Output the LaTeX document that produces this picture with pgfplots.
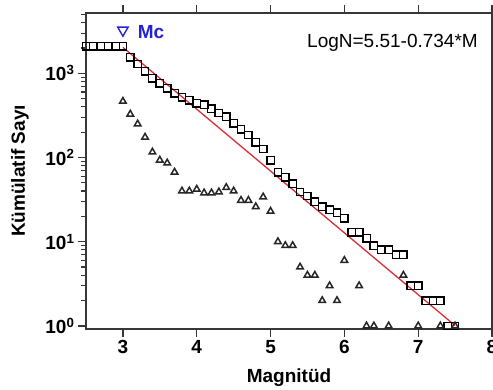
\documentclass[border=0pt]{standalone}
\usepackage{pgfplots}
\pgfplotsset{compat=1.18}
\usepackage{fontspec}
\setmainfont{Liberation Sans}
\definecolor{axgray}{RGB}{55,55,55}
\definecolor{fitred}{RGB}{220,45,55}
\definecolor{mcblue}{RGB}{35,35,210}
\begin{document}
\begin{tikzpicture}
\begin{axis}[
  scale only axis, width=406pt, height=316pt,
  xmin=2.5, xmax=8, ymode=log, ymin=0.92, ymax=5200,
  clip=false,
  axis line style={axgray, line width=1.5pt},
  every tick/.style={axgray, line width=1.2pt},
  tick align=outside,
  major tick length=8pt, minor tick length=5pt,
  xtick={3,4,5,6,7,8}, xticklabels={3,4,5,6,7,8},
  xtick pos=both, xticklabel pos=lower,
  ytick={1,10,100,1000},
  yticklabels={10\textsuperscript{0},10\textsuperscript{1},10\textsuperscript{2},10\textsuperscript{3}},
  minor ytick={2,3,4,5,6,7,8,9,20,30,40,50,60,70,80,90,200,300,400,500,600,700,800,900,2000,3000,4000,5000},
  ytick pos=left,
  tick label style={font=\bfseries\fontsize{19}{20}\selectfont},
  xlabel={Magnitüd}, ylabel={Kümülatif Sayı},
  label style={font=\bfseries\fontsize{19}{22}\selectfont},
  xlabel style={at={(axis description cs:0.5,-0.155)}, anchor=center},
  ylabel style={at={(axis description cs:-0.1626,0.5)}, anchor=center},
]
\addplot[only marks, mark=square, mark size=3.7pt, mark options={black, line width=1.4pt, fill=white}] table {
x y
2.5 2100
2.6 2100
2.7 2100
2.8 2100
2.9 2100
3.0 2100
3.1 1550
3.2 1290
3.3 1060
3.4 875
3.5 760
3.6 665
3.7 580
3.8 520
3.9 480
4.0 440
4.1 425
4.2 380
4.3 337
4.4 305
4.5 256
4.6 217
4.7 185
4.8 152
4.9 126
5.0 93
5.1 67
5.2 58
5.3 49
5.4 39
5.5 35
5.6 30
5.7 26
5.8 24
5.9 22
6.0 19
6.1 13
6.2 13
6.3 11
6.4 9
6.5 8
6.6 8
6.7 7
6.8 7
6.9 3
7.0 3
7.1 2
7.2 2
7.3 2
7.4 1
7.5 1
};
\addplot[only marks, mark=triangle, mark size=3.8pt, mark options={black!85, line width=1.5pt, fill=gray!30}] table {
x y
3.0 465
3.1 327
3.2 250
3.3 174
3.4 116
3.5 93
3.6 86
3.7 67
3.8 40
3.9 40
4.0 42
4.1 38
4.2 38
4.3 39
4.4 44
4.5 40
4.6 31
4.7 31
4.8 26
4.9 34
5.0 23
5.1 10
5.2 9
5.3 9
5.4 5
5.5 4
5.6 4
5.7 2
5.8 3
5.9 2
6.0 6
6.2 3
6.3 1
6.4 1
6.6 1
6.8 4
7.0 1
7.3 1
7.5 1
};
\addplot[fitred, line width=1.3pt] coordinates {(3.0,2032) (7.5,1.01)};
\addplot[only marks, mark=triangle, mark size=6pt, mark options={mcblue, line width=1.4pt, rotate=180, fill=white}] coordinates {(3.0,3250)};
\node[anchor=west, text=mcblue, font=\bfseries\fontsize{19}{20}\selectfont, inner sep=0pt] at (axis cs:3.2,3090) {Mc};
\node[anchor=east, font=\fontsize{19}{20}\selectfont, inner sep=0pt] at (rel axis cs:0.9655,0.905) {LogN=5.51-0.734*M};
\end{axis}
\pgfresetboundingbox
\useasboundingbox (-86pt,-61pt) rectangle (407pt,329pt);
\end{tikzpicture}
\end{document}
